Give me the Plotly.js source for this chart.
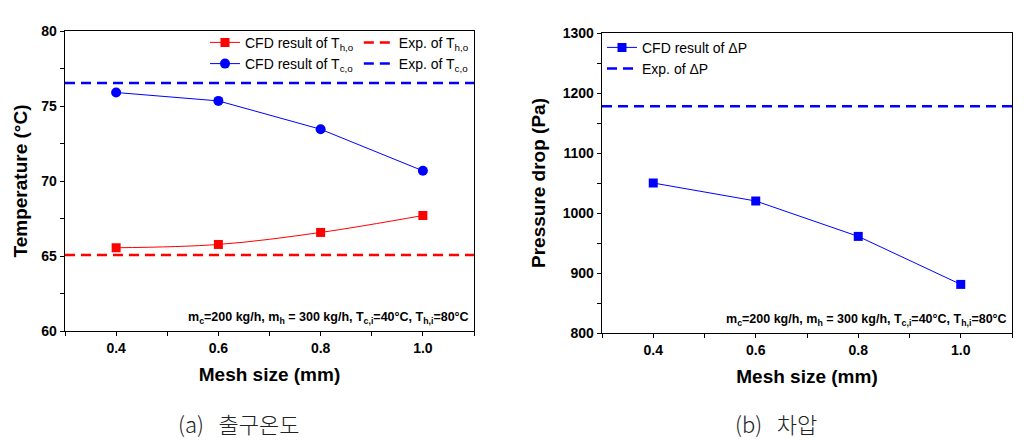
<!DOCTYPE html>
<html><head><meta charset="utf-8">
<script src="https://cdn.plot.ly/plotly-3.0.1.min.js"></script>
<style>
html,body{margin:0;padding:0;background:#fff;}
#wrap{position:relative;width:1031px;height:443px;overflow:hidden;}
#a{position:absolute;left:0;top:0;width:515px;height:443px;}
#b{position:absolute;left:515px;top:0;width:516px;height:443px;}
</style></head><body>
<div id="wrap"><div id="a"></div><div id="b"></div></div>
<script>
// ---- data ----
const meshSize = [0.4, 0.6, 0.8, 1.0];
const cfdThOut = [65.55, 65.77, 66.57, 67.70];
const cfdTcOut = [75.90, 75.34, 73.45, 70.68];
const expThOut = 65.06;
const expTcOut = 76.54;
const cfdDeltaP = [1050, 1020, 961, 881];
const expDeltaP = 1178;
const xRange = [0.3, 1.1];
const xTickVals = [0.4, 0.6, 0.8, 1.0];
const xTickText = ['0.4', '0.6', '0.8', '1.0'];
const xMinorVals = [0.3, 0.5, 0.7, 0.9, 1.1];
const tempRange = [60, 80];
const tempTicks = [60, 65, 70, 75, 80];
const tempMinor = [62.5, 67.5, 72.5, 77.5];
const dpRange = [800, 1300];
const dpTicks = [800, 900, 1000, 1100, 1200, 1300];
const dpMinor = [850, 950, 1050, 1150, 1250];
const condText = 'm<sub>c</sub>=200 kg/h, m<sub>h</sub> = 300 kg/h, T<sub>c,i</sub>=40°C, T<sub>h,i</sub>=80°C';

const F = 'Liberation Sans';
const K = 'Noto Sans CJK KR';

function xAxis() {
  return {
    range: xRange, tickmode: 'array', tickvals: xTickVals, ticktext: xTickText,
    ticks: 'outside', ticklen: 4, tickwidth: 1, tickcolor: '#000',
    minor: {tickmode: 'array', tickvals: xMinorVals, ticks: 'outside', ticklen: 4, tickwidth: 1, tickcolor: '#000', showgrid: false},
    showline: true, linecolor: '#000', linewidth: 1.3, mirror: true,
    showgrid: false, zeroline: false,
    tickfont: {family: F, size: 14, weight: 'bold', color: '#000'},
    title: {text: 'Mesh size (mm)', font: {family: F, size: 19, weight: 'bold', color: '#000'}, standoff: 12}
  };
}
function yAxis(range, ticks, minor, title, standoff) {
  return {
    range: range, tickmode: 'array', tickvals: ticks,
    ticks: 'outside', ticklen: 4, tickwidth: 1, tickcolor: '#000',
    minor: {tickmode: 'array', tickvals: minor, ticks: 'outside', ticklen: 4, tickwidth: 1, tickcolor: '#000', showgrid: false},
    showline: true, linecolor: '#000', linewidth: 1.3, mirror: true,
    showgrid: false, zeroline: false,
    tickfont: {family: F, size: 14, weight: 'bold', color: '#000'},
    title: {text: title, font: {family: F, size: 19, weight: 'bold', color: '#000'}, standoff: standoff}
  };
}
const dashStyle = '10px,6px';

// ---- left chart ----
const tracesA = [
  {x: meshSize, y: cfdThOut, mode: 'lines+markers', name: 'CFD result of T<sub>h,o</sub>',
   line: {color: '#ff0000', width: 1, shape: 'spline'}, marker: {symbol: 'square', size: 9, color: '#ff0000'}},
  {x: xRange, y: [expThOut, expThOut], mode: 'lines', name: 'Exp. of T<sub>h,o</sub>',
   line: {color: '#ff0000', width: 2.5, dash: dashStyle}},
  {x: meshSize, y: cfdTcOut, mode: 'lines+markers', name: 'CFD result of T<sub>c,o</sub>',
   line: {color: '#0000ff', width: 1}, marker: {symbol: 'circle', size: 10, color: '#0000ff'}},
  {x: xRange, y: [expTcOut, expTcOut], mode: 'lines', name: 'Exp. of T<sub>c,o</sub>',
   line: {color: '#0000ff', width: 2.5, dash: dashStyle}}
];
const layoutA = {
  width: 515, height: 443,
  margin: {l: 65, r: 41, t: 31, b: 112},
  paper_bgcolor: '#fff', plot_bgcolor: '#fff',
  showlegend: true,
  legend: {orientation: 'h', x: 1, xanchor: 'right', y: 1.014, yanchor: 'top',
           bgcolor: 'rgba(0,0,0,0)', font: {family: F, size: 14, color: '#000'}, traceorder: 'normal'},
  xaxis: xAxis(),
  yaxis: yAxis(tempRange, tempTicks, tempMinor, 'Temperature (°C)', 8),
  annotations: [
    {xref: 'paper', yref: 'paper', x: 1, y: 0, xanchor: 'right', yanchor: 'bottom', xshift: -3, yshift: 3,
     showarrow: false, text: condText, font: {family: F, size: 12.5, weight: 'bold', color: '#000'}},
    {xref: 'paper', yref: 'paper', x: 0.2714, y: -0.3067, xanchor: 'left', yanchor: 'middle', showarrow: false,
     text: '(a)\u00a0\u00a0\u00a0출구온도', font: {family: K, size: 22, weight: 300, color: '#222'}}
  ]
};

// ---- right chart ----
const tracesB = [
  {x: meshSize, y: cfdDeltaP, mode: 'lines+markers', name: 'CFD result of ΔP',
   line: {color: '#0000ff', width: 1}, marker: {symbol: 'square', size: 9, color: '#0000ff'}},
  {x: xRange, y: [expDeltaP, expDeltaP], mode: 'lines', name: 'Exp. of ΔP',
   line: {color: '#0000ff', width: 2.5, dash: dashStyle}}
];
const layoutB = {
  width: 516, height: 443,
  margin: {l: 87, r: 19, t: 33, b: 110},
  paper_bgcolor: '#fff', plot_bgcolor: '#fff',
  showlegend: true,
  legend: {orientation: 'v', x: 0, xanchor: 'left', y: 1.004, yanchor: 'top',
           bgcolor: 'rgba(0,0,0,0)', font: {family: F, size: 14, color: '#000'}, traceorder: 'normal'},
  xaxis: xAxis(),
  yaxis: yAxis(dpRange, dpTicks, dpMinor, 'Pressure drop (Pa)', 12),
  annotations: [
    {xref: 'paper', yref: 'paper', x: 1, y: 0, xanchor: 'right', yanchor: 'bottom', xshift: -3, yshift: 3,
     showarrow: false, text: condText, font: {family: F, size: 12.5, weight: 'bold', color: '#000'}},
    {xref: 'paper', yref: 'paper', x: 0.3195, y: -0.30, xanchor: 'left', yanchor: 'middle', showarrow: false,
     text: '(b)\u00a0\u00a0\u00a0차압', font: {family: K, size: 22, weight: 300, color: '#222'}}
  ]
};

const cfg = {staticPlot: true, displayModeBar: false};
Plotly.newPlot('a', tracesA, layoutA, cfg);
Plotly.newPlot('b', tracesB, layoutB, cfg);
</script>
</body></html>
